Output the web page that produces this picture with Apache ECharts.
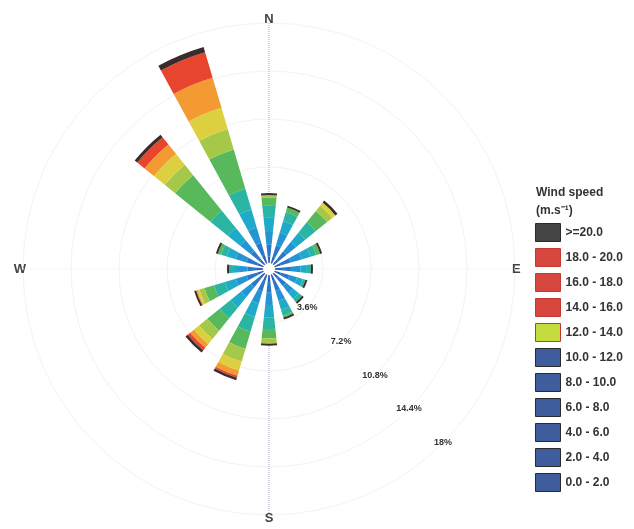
<!DOCTYPE html>
<html>
<head>
<meta charset="utf-8">
<script src="https://cdn.jsdelivr.net/npm/echarts@6/dist/echarts.min.js"></script>
<style>
  html, body { margin: 0; padding: 0; background: #fff; }
  #wind-rose-chart { width: 634px; height: 529px; }
</style>
</head>
<body>
<div id="wind-rose-chart"></div>
<script>
// directions, clockwise from north
var directions = ['N', 'NNE', 'NE', 'ENE', 'E', 'ESE', 'SE', 'SSE', 'S', 'SSW', 'SW', 'WSW', 'W', 'WNW', 'NW', 'NNW']
var compassLabels = ['N', 'E', 'S', 'W']

// speed classes (m/s), lowest first
var speedClasses = ['0.0 - 2.0', '2.0 - 4.0', '4.0 - 6.0', '6.0 - 8.0', '8.0 - 10.0', '10.0 - 12.0',
  '12.0 - 14.0', '14.0 - 16.0', '16.0 - 18.0', '18.0 - 20.0', '>=20.0']

// frequency (%) per direction for each class
var speed0to2 = [0.5, 0.5, 0.45, 0.45, 0.45, 0.45, 0.45, 0.45, 0.45, 0.45, 0.45, 0.45, 0.45, 0.45, 0.45, 0.6]
var speed2to4 = [0.9, 0.9, 0.8, 0.8, 0.75, 0.7, 0.75, 0.8, 0.85, 0.85, 0.85, 0.85, 0.7, 0.85, 0.85, 1.0]
var speed4to6 = [1.0, 1.0, 0.9, 0.85, 0.7, 0.6, 0.7, 0.8, 0.95, 0.95, 0.95, 0.85, 0.65, 0.85, 1.0, 1.2]
var speed6to8 = [1.0, 0.9, 0.9, 0.7, 0.5, 0.45, 0.5, 0.7, 0.95, 1.05, 1.0, 0.85, 0.45, 0.7, 1.2, 1.4]
var speed8to10 = [0.9, 0.7, 1.0, 0.45, 0.3, 0.2, 0.35, 0.45, 0.85, 1.15, 1.05, 0.85, 0.3, 0.45, 1.7, 1.65]
var speed10to12 = [0.6, 0.35, 1.1, 0.3, 0, 0, 0, 0.15, 0.7, 1.35, 1.2, 0.75, 0, 0.25, 3.4, 3.05]
var speed12to14 = [0.2, 0, 0.5, 0, 0, 0, 0, 0, 0.4, 1.0, 0.8, 0.4, 0, 0, 1.0, 1.6]
var speed14to16 = [0, 0, 0.3, 0, 0, 0, 0, 0, 0, 0.7, 0.5, 0.15, 0, 0, 1.05, 1.65]
var speed16to18 = [0, 0, 0, 0, 0, 0, 0, 0, 0, 0.4, 0.35, 0.1, 0, 0, 0.9, 2.35]
var speed18to20 = [0, 0, 0, 0, 0, 0, 0, 0, 0, 0.15, 0.25, 0, 0, 0, 0.7, 2.0]
var speedOver20 = [0.15, 0.15, 0.2, 0.15, 0.15, 0.15, 0.15, 0.15, 0.15, 0.2, 0.2, 0.15, 0.15, 0.15, 0.25, 0.4]

// radial ticks (%)
var radiusMax = 18
var radiusStep = 3.6

var speedData = [speed0to2, speed2to4, speed4to6, speed6to8, speed8to10, speed10to12,
  speed12to14, speed14to16, speed16to18, speed18to20, speedOver20]

var barColors = ['#3060b0', '#2c78c8', '#2494d4', '#1eaac8', '#2ab4a4', '#58b85c',
  '#a6c848', '#dcd040', '#f39a32', '#e8452e', '#3a2c2c']
// swatches as they appear in the legend
var legendColors = ['#3f5c9c', '#3f5c9c', '#3f5c9c', '#3f5c9c', '#3f5c9c', '#3f5c9c',
  '#c6dc3e', '#d8473d', '#d8473d', '#d8473d', '#454545']

var center = [269, 269]
var font = 'Liberation Sans, Arial, sans-serif'

var chart = echarts.init(document.getElementById('wind-rose-chart'))

var series = speedClasses.map(function (name, i) {
  return {
    name: name,
    type: 'bar',
    coordinateSystem: 'polar',
    polarIndex: 0,
    stack: 'wind',
    data: speedData[i],
    barCategoryGap: '46%',
    itemStyle: { color: barColors[i] },
    z: 3
  }
})

var legendData = speedClasses.slice().reverse().map(function (name) {
  var i = speedClasses.indexOf(name)
  return {
    name: name,
    icon: 'rect',
    itemStyle: {
      color: legendColors[i],
      borderColor: i >= 6 && i <= 9 ? '#c03a34' : '#2a2a2a',
      borderWidth: 1
    }
  }
})

var option = {
  animation: false,
  backgroundColor: '#fff',
  title: {
    text: 'Wind speed\n(m.s⁻¹)',
    left: 531,
    top: 179,
    textStyle: {
      fontFamily: font,
      fontSize: 12,
      fontWeight: 'bold',
      color: '#333',
      lineHeight: 18
    }
  },
  legend: {
    orient: 'vertical',
    left: 530,
    top: 218,
    itemWidth: 25,
    itemHeight: 18,
    itemGap: 6,
    data: legendData,
    textStyle: { fontFamily: font, fontSize: 12, fontWeight: 'bold', color: '#333' }
  },
  polar: [
    { center: center, radius: [6, 246] },
    { center: center, radius: [6, 246] },
    { center: center, radius: [6, 246] }
  ],
  angleAxis: [
    {
      polarIndex: 0,
      type: 'category',
      data: directions,
      startAngle: 90 + 360 / directions.length / 2,
      axisLine: { show: false },
      axisTick: { show: false },
      splitLine: { show: false },
      axisLabel: {
        interval: 3,
        margin: -3,
        fontFamily: font,
        fontSize: 13,
        fontWeight: 'bold',
        color: '#444',
        formatter: function (v) {
          return compassLabels.indexOf(v) > -1 ? v : ''
        }
      }
    },
    {
      // only used to put the % labels along the SE diagonal
      polarIndex: 1,
      type: 'value',
      min: 0,
      max: 360,
      startAngle: -45,
      axisLine: { show: false },
      axisTick: { show: false },
      axisLabel: { show: false },
      splitLine: { show: false }
    },
    {
      // compass cross
      polarIndex: 2,
      type: 'value',
      min: 0,
      max: 360,
      interval: 90,
      startAngle: 90,
      axisLine: { show: false },
      axisTick: { show: false },
      axisLabel: { show: false },
      splitLine: {
        show: true,
        lineStyle: {
          type: 'dotted',
          width: 1,
          color: ['#a4a4d4', '#efefef', '#a4a4d4', '#efefef']
        }
      }
    }
  ],
  radiusAxis: [
    {
      polarIndex: 0,
      min: 0,
      max: radiusMax,
      interval: radiusStep,
      axisLine: { show: false },
      axisTick: { show: false },
      axisLabel: { show: false },
      splitLine: { lineStyle: { color: '#f3f3f3' } }
    },
    {
      polarIndex: 1,
      min: 0,
      max: radiusMax,
      interval: radiusStep,
      axisLine: { show: false },
      axisTick: { show: false },
      splitLine: { show: false },
      axisLabel: {
        margin: 0,
        align: 'center',
        verticalAlign: 'middle',
        fontFamily: font,
        fontSize: 9,
        fontWeight: 'bold',
        color: '#333',
        formatter: function (v) {
          if (v === 0) return ''
          return (Math.round(v * 10) / 10) + '%'
        }
      }
    },
    {
      polarIndex: 2,
      min: 0,
      max: radiusMax,
      show: false
    }
  ],
  series: series
}

chart.setOption(option, true)
</script>
</body>
</html>
